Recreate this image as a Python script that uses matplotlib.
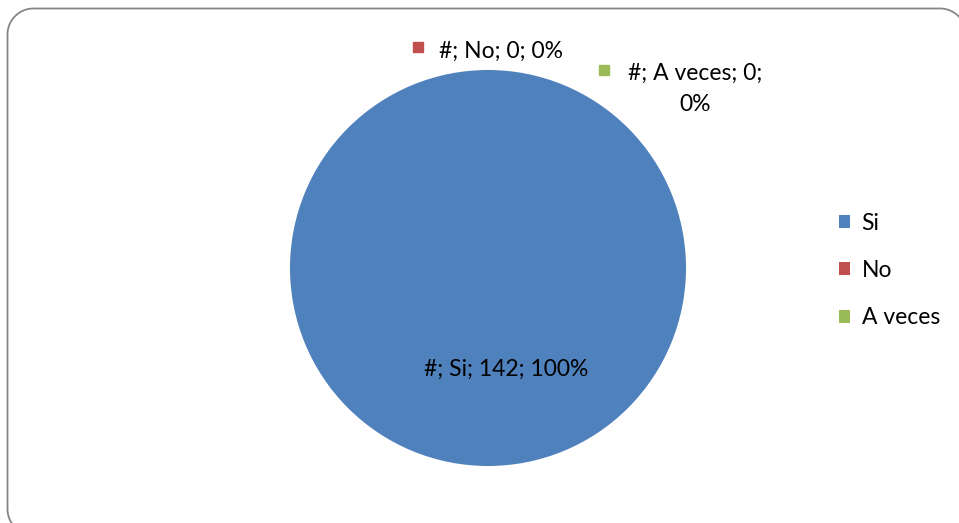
import matplotlib
matplotlib.use("Agg")
import numpy as np
import matplotlib.pyplot as plt
from matplotlib.patches import Patch
from matplotlib.lines import Line2D

categories = ["Si", "No", "A veces"]
values = [142, 0, 0]
colors = ["#4F81BD", "#C0504D", "#9BBB59"]

plt.rcParams['font.family'] = ['Lato', 'DejaVu Sans']

W, H, DPI = 959, 523, 100
fig = plt.figure(figsize=(W / DPI, H / DPI), dpi=DPI)

# rounded chart border in pixel coordinates (origin bottom-left)
left, top, right, bottom, rad = 7.5, H - 8.5, 966, -12, 26
def arc(cxp, cyp, a0, a1, n=30):
    t = np.radians(np.linspace(a0, a1, n))
    return cxp + rad * np.cos(t), cyp + rad * np.sin(t)
xs, ys = [], []
# bottom-left arc -> left side -> top-left arc -> top side -> top-right arc
ax_, ay_ = arc(left + rad, bottom + rad, 270, 180); xs += list(ax_); ys += list(ay_)
ax_, ay_ = arc(left + rad, top - rad, 180, 90); xs += list(ax_); ys += list(ay_)
ax_, ay_ = arc(right - rad, top - rad, 90, 0); xs += list(ax_); ys += list(ay_)
xs, ys = np.array(xs), np.array(ys)
keep = xs <= W + 1
fig.add_artist(Line2D(xs[keep], ys[keep], transform=None, color="#868686",
                      linewidth=1.3, solid_capstyle='butt', zorder=-1))

cx, cy, r = 488, 268, 198
ax = fig.add_axes([(cx - r) / W, (H - cy - r) / H, 2 * r / W, 2 * r / H])
wedges, _ = ax.pie(values, colors=colors, startangle=90, counterclock=False,
                   radius=1, wedgeprops=dict(linewidth=0))
ax.set_xlim(-1, 1)
ax.set_ylim(-1, 1)
ax.set_aspect('equal')
ax.axis('off')

def to_ax(px, py):
    return (px - cx) / r, (cy - py) / r

total = sum(values)
labels = [f"#; {c}; {v}; {round(100 * v / total)}%" for c, v in zip(categories, values)]
fs = 16.5

# Si label
x, y = to_ax(506, 369)
ax.text(x, y, labels[0], ha='center', va='center', fontsize=fs, color='black')

# No label
x, y = to_ax(418, 47)
ax.plot([x], [y], marker='s', ms=7.5, color=colors[1], clip_on=False, lw=0)
x, y = to_ax(439, 51)
ax.text(x, y, labels[1], ha='left', va='center', fontsize=fs, color='black', clip_on=False)

# A veces label (wrapped)
x, y = to_ax(604, 70)
ax.plot([x], [y], marker='s', ms=7.5, color=colors[2], clip_on=False, lw=0)
parts = labels[2].rsplit(" ", 1)
x, y = to_ax(695, 89)
ax.text(x, y, parts[0] + "\n" + parts[1], ha='center', va='center', fontsize=fs,
        color='black', clip_on=False, linespacing=1.55)

handles = [Patch(facecolor=c, edgecolor='none') for c in colors]
fig.legend(handles, categories, loc='center left',
           bbox_to_anchor=(818 / W, 1 - 270.5 / H), frameon=False,
           fontsize=fs, handlelength=0.5, handleheight=0.5, handletextpad=0.5,
           labelspacing=1.15)

fig.savefig("out.png", dpi=DPI)
